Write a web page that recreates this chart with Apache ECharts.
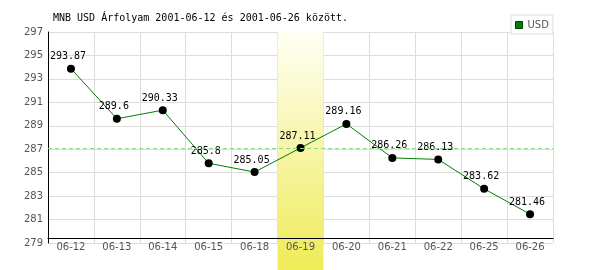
<!DOCTYPE html>
<html><head><meta charset="utf-8">
<script src="https://cdn.jsdelivr.net/npm/echarts@6/dist/echarts.min.js"></script>
<style>html,body{margin:0;padding:0;background:#fff}#c{width:600px;height:270px}</style>
</head><body><div id="c"></div>
<script>
const titleText = 'MNB USD Árfolyam 2001-06-12 és 2001-06-26 között.';
const seriesName = 'USD';
const categories = ['06-12','06-13','06-14','06-15','06-18','06-19','06-20','06-21','06-22','06-25','06-26'];
const usdValues = [293.87, 289.6, 290.33, 285.8, 285.05, 287.11, 289.16, 286.26, 286.13, 283.62, 281.46];
const highlightDate = '06-19';
const yTicks = [279, 281, 283, 285, 287, 289, 291, 293, 295, 297];
const yMin = 279, yMax = 297;

const hiIdx = categories.indexOf(highlightDate);
const bandData = categories.map((c, i) => i === hiIdx ? 1 : '-');
const gridBox = {left: 48, right: 47, top: 32, bottom: 27};
const axisFont = {color: '#555', fontFamily: 'DejaVu Sans', fontSize: 10};
const monoFont = 'DejaVu Sans Mono';

const chart = echarts.init(document.getElementById('c'), null, {renderer: 'canvas'});
chart.setOption({
  animation: false,
  backgroundColor: '#fff',
  title: {
    text: titleText, left: 53, top: 13, padding: 0,
    textStyle: {color: '#000', fontFamily: monoFont, fontSize: 10, fontWeight: 'normal'}
  },
  legend: {
    left: 511, top: 15, padding: [5, 4, 4, 4],
    borderColor: '#ddd', borderWidth: 1, backgroundColor: '#fff',
    itemWidth: 7, itemHeight: 7, itemGap: 4, icon: 'rect',
    textStyle: axisFont,
    data: [{name: seriesName, itemStyle: {color: '#008000', borderColor: '#004000', borderWidth: 1}}]
  },
  grid: [
    Object.assign({}, gridBox),
    {left: 48, right: 47, top: 30, bottom: 0},
    Object.assign({}, gridBox)
  ],
  xAxis: [
    {gridIndex: 0, type: 'category', data: categories, boundaryGap: true, z: 0,
     axisLine: {show: false}, axisTick: {show: false}, axisLabel: {show: false},
     splitLine: {show: true, interval: 0, lineStyle: {color: '#dcdcdc', width: 1}}},
    {gridIndex: 1, type: 'category', data: categories, boundaryGap: true, show: false},
    {gridIndex: 2, type: 'category', data: categories, boundaryGap: true, offset: -5, z: 3,
     axisLine: {show: true, lineStyle: {color: '#000', width: 1}}, axisTick: {show: false},
     axisLabel: Object.assign({interval: 0, margin: 4}, axisFont),
     splitLine: {show: false}}
  ],
  yAxis: [
    {gridIndex: 0, type: 'value', min: yMin, max: yMax, z: 0,
     axisLine: {show: false}, axisTick: {show: false, customValues: yTicks},
     axisLabel: {show: false, customValues: yTicks},
     splitLine: {show: true, lineStyle: {color: '#dcdcdc', width: 1}}},
    {gridIndex: 1, type: 'value', min: 0, max: 1, show: false},
    {gridIndex: 2, type: 'value', min: yMin, max: yMax, z: 3,
     axisLine: {show: true, lineStyle: {color: '#000', width: 1}},
     axisTick: {show: false, customValues: yTicks},
     axisLabel: Object.assign({customValues: yTicks, margin: 5}, axisFont),
     splitLine: {show: false}}
  ],
  series: [
    {
      type: 'bar', xAxisIndex: 1, yAxisIndex: 1, data: bandData, barWidth: '100%',
      silent: true, z: 1, legendHoverLink: false,
      itemStyle: {color: new echarts.graphic.LinearGradient(0, 0, 0, 1, [
        {offset: 0, color: '#fffff6'}, {offset: 1, color: '#efeb58'}])}
    },
    {
      name: seriesName, type: 'line', xAxisIndex: 2, yAxisIndex: 2, data: usdValues, z: 4,
      symbol: 'circle', symbolSize: 8,
      itemStyle: {color: '#000'},
      lineStyle: {color: '#008000', width: 1},
      label: {show: true, position: 'top', distance: 3, offset: [-3, 0],
              color: '#000', fontFamily: monoFont, fontSize: 10},
      markLine: {
        silent: true, symbol: 'none', label: {show: false},
        lineStyle: {color: '#8ad88a', type: [4, 3], width: 1},
        data: [{yAxis: usdValues[hiIdx]}]
      }
    }
  ]
});
</script>
</body></html>
